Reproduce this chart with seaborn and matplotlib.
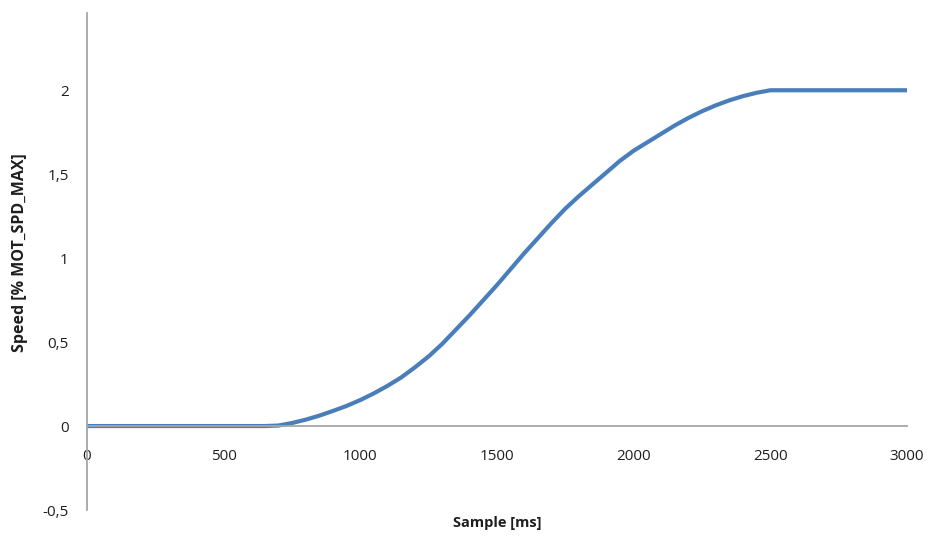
import matplotlib
matplotlib.use("Agg")
import matplotlib.pyplot as plt
import seaborn as sns
import pandas as pd

# Data (sample time in ms, speed in % MOT_SPD_MAX)
sample_ms = [0, 100, 200, 300, 400, 500, 600, 650, 700, 750, 800, 850, 900, 950,
             1000, 1050, 1100, 1150, 1200, 1250, 1300, 1350, 1400, 1450, 1500,
             1550, 1600, 1650, 1700, 1750, 1800, 1850, 1900, 1950, 2000,
             2050, 2100, 2150, 2200, 2250, 2300, 2350, 2400, 2450, 2500,
             2600, 2700, 2800, 2900, 3000]
speed = [0, 0, 0, 0, 0, 0, 0, 0, 0.003, 0.018, 0.038, 0.062, 0.09, 0.12,
         0.155, 0.195, 0.24, 0.29, 0.35, 0.415, 0.49, 0.575, 0.66, 0.75, 0.84,
         0.935, 1.03, 1.12, 1.21, 1.295, 1.37, 1.44, 1.51, 1.58, 1.64,
         1.69, 1.74, 1.79, 1.835, 1.875, 1.91, 1.94, 1.965, 1.985, 2.0,
         2.0, 2.0, 2.0, 2.0, 2.0]

x_ticks = [0, 500, 1000, 1500, 2000, 2500, 3000]
x_tick_labels = ["0", "500", "1000", "1500", "2000", "2500", "3000"]
y_ticks = [-0.5, 0, 0.5, 1, 1.5, 2]
y_tick_labels = ["-0,5", "0", "0,5", "1", "1,5", "2"]

x_label = "Sample [ms]"
y_label = "Speed [% MOT_SPD_MAX]"

df = pd.DataFrame({"t": sample_ms, "v": speed})

sns.set_style("white")
plt.rcParams["font.family"] = ["Open Sans", "DejaVu Sans"]

fig = plt.figure(figsize=(9.3, 5.36), dpi=100)
ax = fig.add_axes([0.0935, 0.0485, 0.9753 - 0.0935, 0.9757 - 0.0485])

line_ax = sns.lineplot(data=df, x="t", y="v", ax=ax, color="#4a7ebb", linewidth=3.0)
for ln in line_ax.lines:
    ln.set_solid_joinstyle("round")
    ln.set_solid_capstyle("butt")

ax.set_xlim(0, 3000)
ax.set_ylim(-0.5, 2.46)

axis_color = "#a6a6a6"
text_color = "#1f1f1f"

ax.spines["top"].set_visible(False)
ax.spines["right"].set_visible(False)
ax.spines["bottom"].set_position(("data", 0))
for s in ("left", "bottom"):
    ax.spines[s].set_color(axis_color)
    ax.spines[s].set_linewidth(1.3)

ax.set_xticks(x_ticks)
ax.set_xticklabels(x_tick_labels)
ax.set_yticks(y_ticks)
ax.set_yticklabels(y_tick_labels)

ax.tick_params(axis="x", direction="out", length=4, width=1, color=axis_color,
               pad=12.5, labelsize=11, labelcolor=text_color)
ax.tick_params(axis="y", direction="out", length=4, width=1, color=axis_color,
               pad=9, labelsize=11, labelcolor=text_color)

ax.set_xlabel("")
ax.set_ylabel("")
fig.text(497 / 930, 1 - 523 / 536, x_label, ha="center", va="center",
         fontsize=10.5, fontweight="bold", color=text_color)
fig.text(20 / 930, 1 - 253 / 536, y_label, ha="center", va="center",
         rotation=90, fontsize=11.5, fontweight="bold", color=text_color)

ax.grid(False)
fig.savefig("out.png", dpi=100, facecolor="white")
